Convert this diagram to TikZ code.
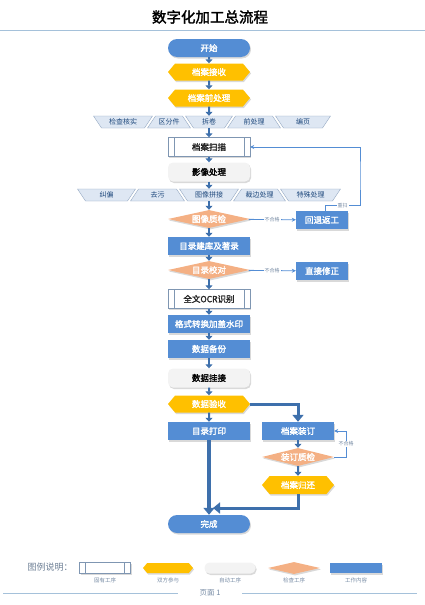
\documentclass[tikz,border=0pt]{standalone}
\usepackage{fontspec}
\setmainfont{Noto Sans CJK SC}[AutoFakeBold=2]
\usetikzlibrary{shapes.geometric,shapes.symbols,shadows,arrows.meta}
\definecolor{workblue}{RGB}{84,141,212}
\definecolor{flowblue}{RGB}{62,112,172}
\definecolor{partyellow}{RGB}{255,192,0}
\definecolor{checkorange}{RGB}{244,176,132}
\definecolor{autogrey}{RGB}{243,243,243}
\definecolor{fixline}{RGB}{127,150,178}
\definecolor{stripfill}{RGB}{222,231,243}
\definecolor{stripline}{RGB}{139,160,188}
\definecolor{striptext}{RGB}{31,73,125}
\definecolor{notetext}{RGB}{120,140,165}
\definecolor{ruleblue}{RGB}{165,193,218}

\tikzset{
  box/.style={minimum width=82pt,minimum height=19pt,inner sep=0pt,
    font=\bfseries\fontsize{8.5}{9}\selectfont,
    drop shadow={opacity=0.3,shadow xshift=1pt,shadow yshift=-1.5pt}},
  work/.style={box,rectangle,fill=workblue,text=white,minimum height=18pt},
  pill/.style={work,rounded corners=9pt},
  party/.style={box,signal,signal to=east and west,signal pointer angle=100,
    fill=partyellow,text=white,minimum height=17pt},
  check/.style={box,diamond,aspect=4,fill=checkorange,text=white,minimum height=18pt},
  autostep/.style={box,rectangle,rounded corners=5pt,fill=autogrey,text=black},
  fixed/.style={box,rectangle,draw=fixline,fill=white,text=black!85,
    path picture={\draw[fixline]
      ([xshift=6pt]path picture bounding box.north west) -- ([xshift=6pt]path picture bounding box.south west)
      ([xshift=-6pt]path picture bounding box.north east) -- ([xshift=-6pt]path picture bounding box.south east);}},
  flow/.style={draw=flowblue,line width=2pt,-{Triangle[length=4pt,width=7pt]}},
  bigflow/.style={draw=flowblue,line width=3pt,-{Triangle[length=7pt,width=11pt]}},
  backline/.style={draw=workblue,line width=0.8pt,-{Stealth[length=4pt,width=4pt]}},
  note/.style={fill=white,text=notetext,inner sep=1pt,font=\fontsize{5}{5.5}\selectfont},
  stripcell/.style={inner sep=0pt,minimum height=12pt,text=striptext,font=\fontsize{7}{7.5}\selectfont},
  legendtext/.style={text=notetext,font=\fontsize{5.5}{6}\selectfont}
}

\begin{document}
\begin{tikzpicture}[x=1pt,y=-1pt]
\useasboundingbox (0,0) rectangle (425,605);

% title
\node[font=\bfseries\fontsize{14.5}{16}\selectfont] (title) at (210,17) {数字化加工总流程};
\draw[ruleblue,line width=1pt] (0,30) -- (425,30);

% main column
\node[pill] (start) at (209,48) {开始};
\node[party] (jieshou) at (209,72) {档案接收};
\node[party] (qianchuli) at (209,98) {档案前处理};

% first row of sub steps
\foreach\l/\r/\k/\txt [count=\i] in {96/150/1/检查核实, 150/188/-1/区分件, 188/230/1/拆卷, 230/278/-1/前处理, 278/328/1/编页}{
\draw[stripline,fill=stripfill] ({\l+1.5-4*\k},116) -- ({\r-1.5+4*\k},116) -- ({\r-1.5-4*\k},128) -- ({\l+1.5+4*\k},128) -- cycle;
\node[stripcell] (pa\i) at ({(\l+\r)/2},122) {\txt};
}

\node[fixed] (saomiao) at (209,147) {档案扫描};
\node[autostep] (yingxiang) at (209,172) {影像处理};

% second row of sub steps
\foreach\l/\r/\k/\txt [count=\i] in {80/133/1/纠偏, 133/182/-1/去污, 182/236/1/图像拼接, 236/283/-1/裁边处理, 283/338/1/特殊处理}{
\draw[stripline,fill=stripfill] ({\l+1.5-4*\k},189) -- ({\r-1.5+4*\k},189) -- ({\r-1.5-4*\k},201) -- ({\l+1.5+4*\k},201) -- cycle;
\node[stripcell] (pb\i) at ({(\l+\r)/2},195) {\txt};
}

\node[check] (zhijian) at (209,219) {图像质检};
\node[work,minimum width=52pt] (fangong) at (322,220) {回退返工};
\node[work] (zhulu) at (209,246) {目录建库及著录};
\node[check] (jiaodui) at (209,270) {目录校对};
\node[work,minimum width=52pt] (xiuzheng) at (322,271) {直接修正};
\node[fixed] (ocr) at (209,299) {全文OCR识别};
\node[work] (geshi) at (209,324) {格式转换加盖水印};
\node[work] (beifen) at (209,349) {数据备份};
\node[autostep] (guajie) at (209,378) {数据挂接};
\node[party] (yanshou) at (209,404) {数据验收};
\node[work] (dayin) at (209,431) {目录打印};

% binding branch
\node[work,minimum width=72pt] (zhuangding) at (298,431) {档案装订};
\node[check,minimum width=72pt] (zdzj) at (298,457) {装订质检};
\node[party,minimum width=72pt,minimum height=18pt] (guihuan) at (298,485) {档案归还};
\node[pill] (wancheng) at (209,524) {完成};
\coordinate (back) at (213,508);

% arrows
\draw[flow] (start) -- (jieshou);
\draw[flow] (jieshou) -- (qianchuli);
\draw[flow] (qianchuli) -- (pa3);
\draw[flow] (pa3) -- (saomiao);
\draw[flow] (saomiao) -- (yingxiang);
\draw[flow] (yingxiang) -- (pb3);
\draw[flow] (pb3) -- (zhijian);
\draw[flow] (zhijian) -- (zhulu);
\draw[flow] (zhulu) -- (jiaodui);
\draw[flow] (jiaodui) -- (ocr);
\draw[flow] (ocr) -- (geshi);
\draw[flow] (geshi) -- (beifen);
\draw[flow] (beifen) -- (guajie);
\draw[flow] (guajie) -- (yanshou);
\draw[flow] (yanshou) -- (dayin);
\draw[flow] (zhuangding) -- (zdzj);
\draw[flow] (zdzj) -- (guihuan);
\draw[bigflow] (yanshou.east) -| (zhuangding.north);
\draw[bigflow,line width=4pt] (dayin) -- (wancheng);
\draw[bigflow] (guihuan.south) |- (back);

% feedback
\draw[backline] (zhijian) -- node[note]{不合格} (fangong);
\draw[backline] ([xshift=3pt]fangong.north) -- ++(0,-5) -| node[note,pos=0.25]{重扫} (360,175) |- (saomiao.east);
\draw[backline] (jiaodui) -- node[note]{不合格} (xiuzheng);
\draw[backline] (zdzj.east) -- ++(12,0) |- node[note,pos=0.25]{不合格} (zhuangding.east);

% legend
\node[text=notetext!90!black,font=\fontsize{9}{10}\selectfont] (legend) at (50,567) {图例说明：};
\node[fixed,minimum width=51pt,minimum height=11pt] (lg1) at (105,568) {};
\node[party,minimum width=50pt,minimum height=10pt] (lg2) at (168,568) {};
\node[autostep,minimum width=51pt,minimum height=11pt] (lg3) at (230,568) {};
\node[check,minimum width=52pt,minimum height=12pt] (lg4) at (294,568) {};
\node[work,minimum width=52pt,minimum height=10pt] (lg5) at (356,568) {};
\node[legendtext] (lt1) at (105,580) {固有工序};
\node[legendtext] (lt2) at (168,580) {双方参与};
\node[legendtext] (lt3) at (230,580) {自动工序};
\node[legendtext] (lt4) at (294,580) {检查工序};
\node[legendtext] (lt5) at (356,580) {工作内容};

% footer
\draw[ruleblue,line width=1pt] (3,593) -- (178,593);
\draw[ruleblue,line width=1pt] (242,593) -- (417,593);
\node[text=notetext,font=\fontsize{7.5}{8}\selectfont] (page) at (210,593) {页面 1};
\end{tikzpicture}
\end{document}
